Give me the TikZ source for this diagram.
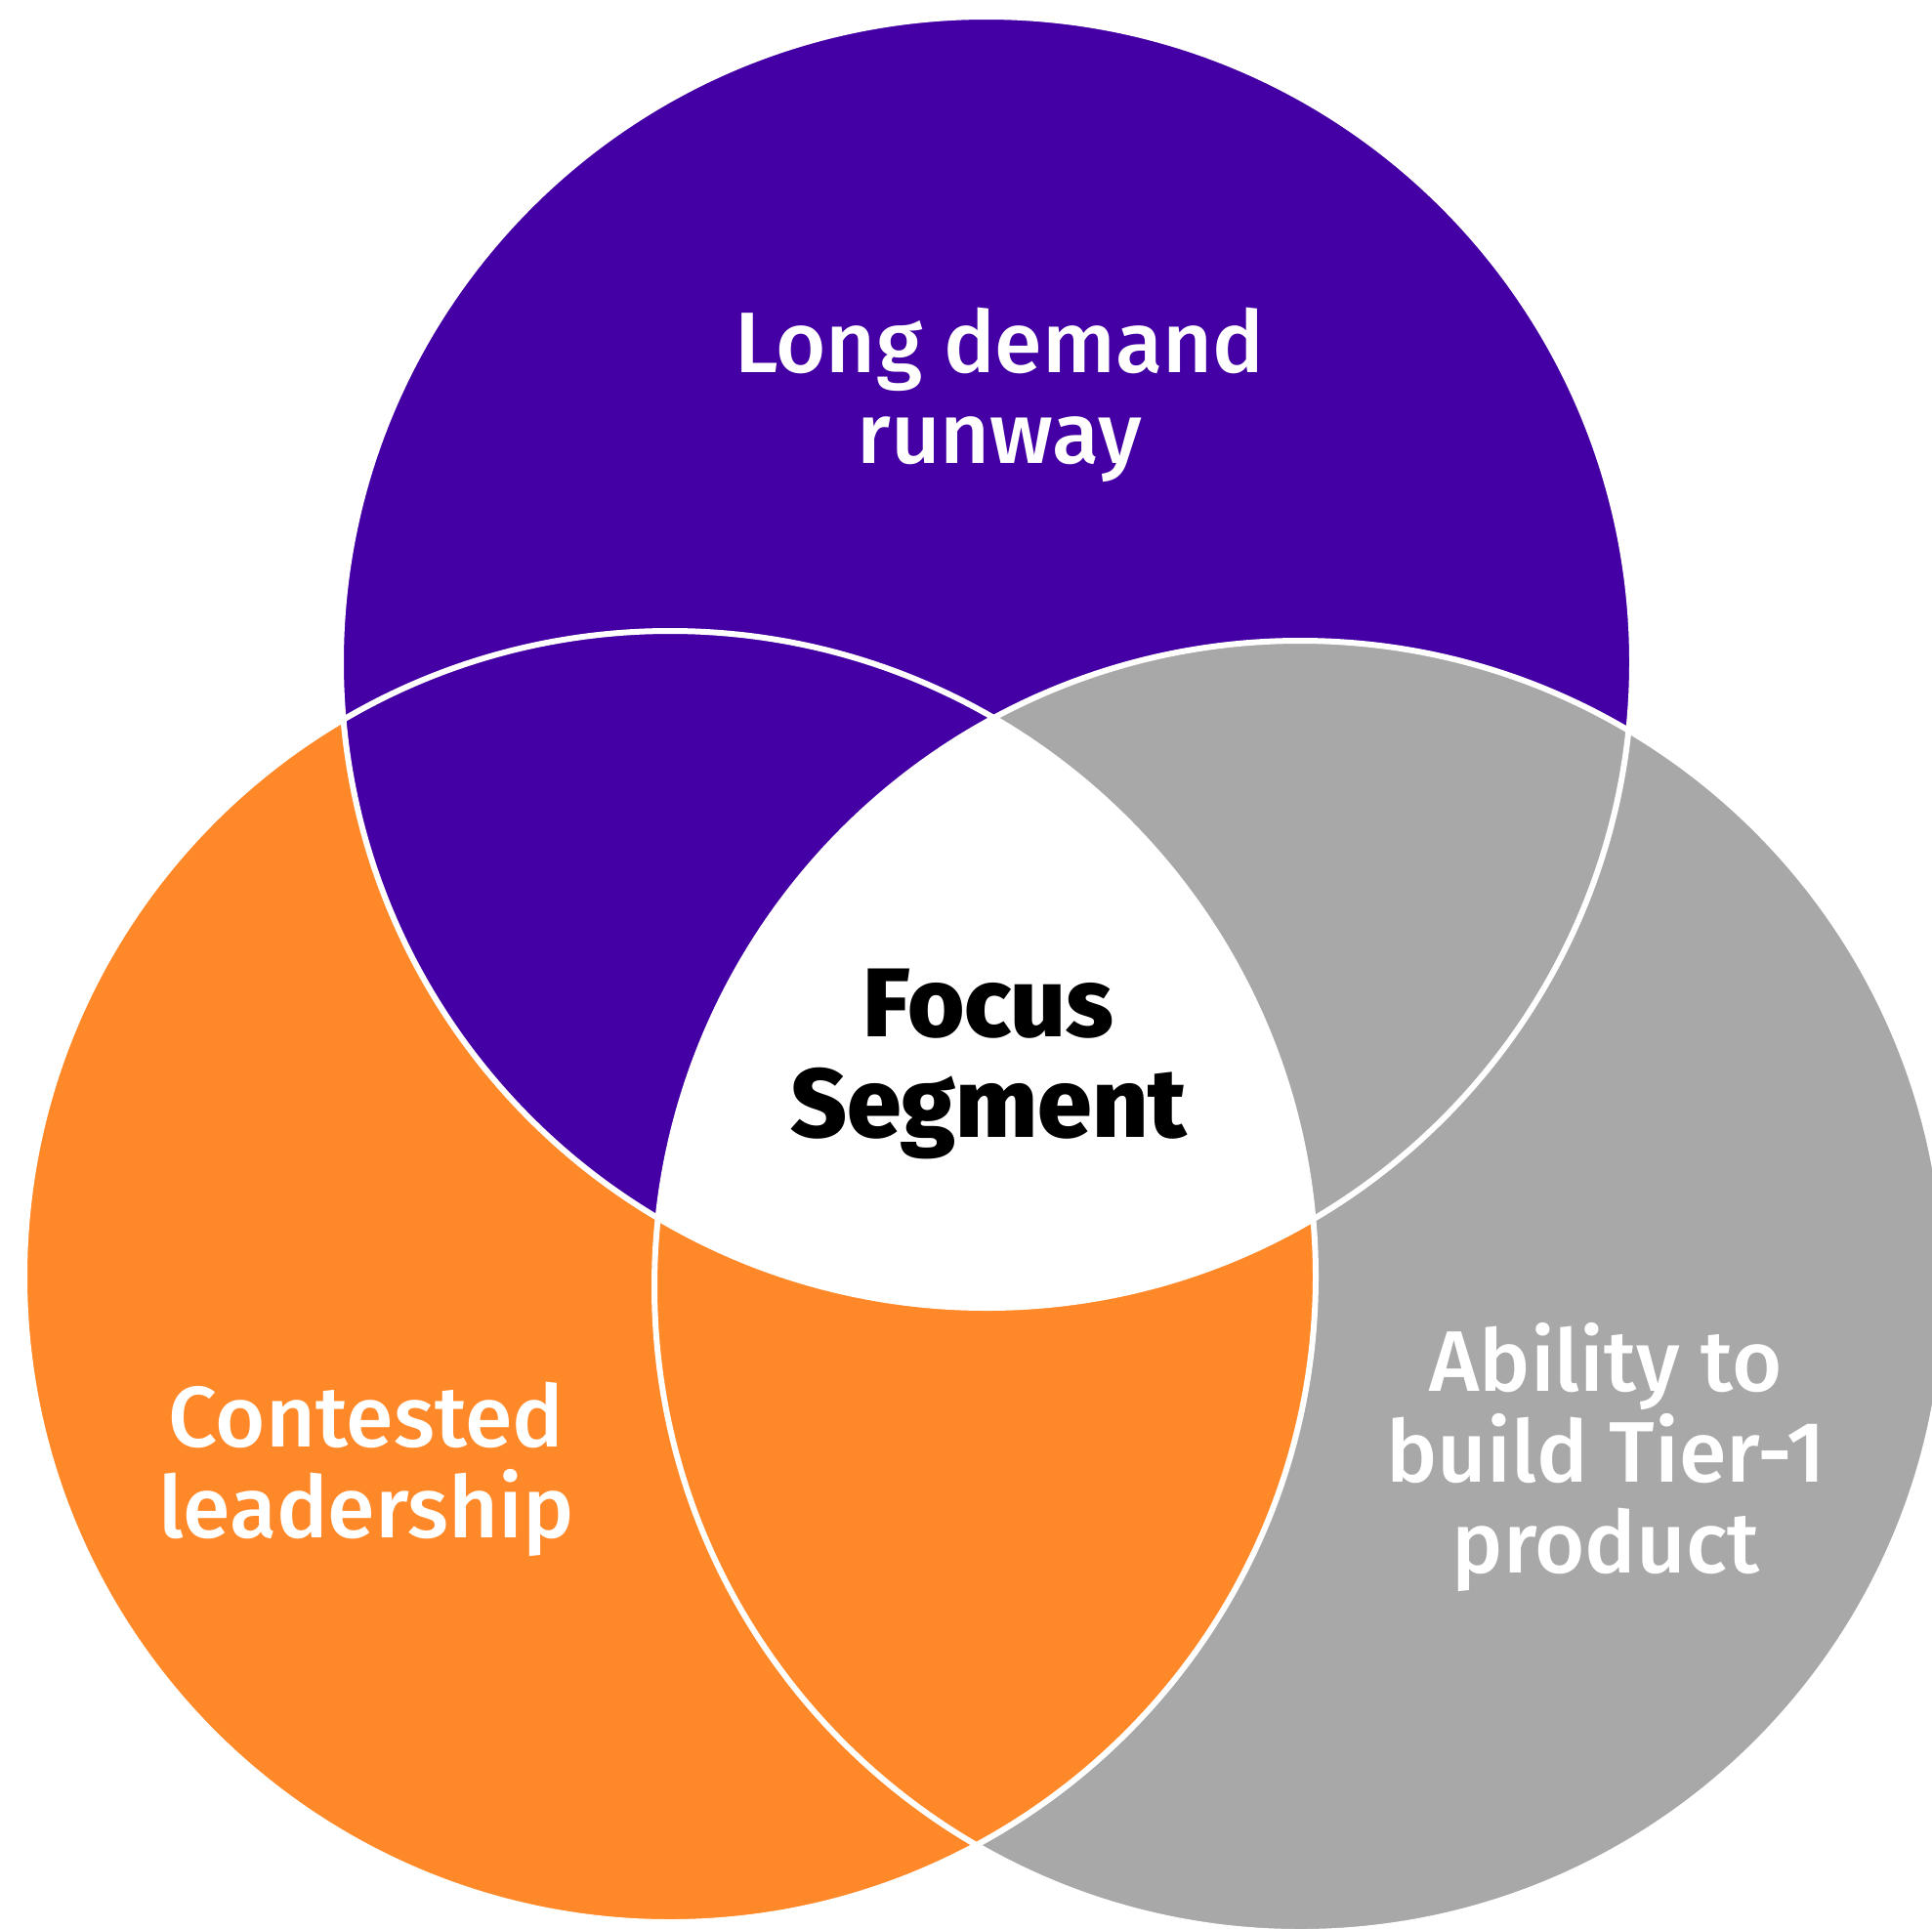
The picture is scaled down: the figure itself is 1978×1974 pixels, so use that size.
\documentclass[tikz,border=0pt]{standalone}
\usepackage{fontspec}
\setmainfont{Fira Sans}
\newfontfamily\setfont{Fira Sans Medium}
\newfontfamily\corefont{Fira Sans ExtraBold}
\definecolor{vpurple}{RGB}{68,0,164}
\definecolor{vorange}{RGB}{255,136,41}
\definecolor{vgray}{RGB}{168,168,168}
\begin{document}
\begin{tikzpicture}[x=1pt,y=-1pt,
  setlabel/.style={align=center, text=white, anchor=base,
    font=\setfont\fontsize{88}{93}\selectfont},
  corelabel/.style={align=center, text=black, anchor=base,
    font=\corefont\fontsize{100}{103}\selectfont},
  rim/.style={draw=white, line width=6pt}]
\useasboundingbox (0,0) rectangle (1978,1974);
\clip (0,0) rectangle (1978,1974);
\def\R{661pt}
\coordinate (ct) at (1010,678);
\coordinate (cl) at (686,1307);
\coordinate (cr) at (1331,1317);
% base discs
\fill[vorange] (cl) circle[radius=\R];
\fill[vgray] (cr) circle[radius=\R];
\fill[vpurple] (ct) circle[radius=\R];
% pairwise lenses
\begin{scope}
  \clip (ct) circle[radius=\R];
  \fill[vgray] (cr) circle[radius=\R];
\end{scope}
\begin{scope}
  \clip (cl) circle[radius=\R];
  \fill[vorange] (cr) circle[radius=\R];
\end{scope}
\begin{scope}
  \clip (ct) circle[radius=\R];
  \fill[vpurple] (cl) circle[radius=\R];
\end{scope}
% common core
\begin{scope}
  \clip (ct) circle[radius=\R];
  \clip (cl) circle[radius=\R];
  \fill[white] (cr) circle[radius=\R];
\end{scope}
% white rims
\path[rim] (ct) circle[radius=\R];
\path[rim] (cl) circle[radius=\R];
\path[rim] (cr) circle[radius=\R];
% labels (anchored on the baseline of the last line)
\node[setlabel] (demand) at (1023,474) {Long demand\\runway};
\node[setlabel] (lead) at (375,1574) {Contested\\leadership};
\node[setlabel] (tier) at (1644,1610) {Ability to\\build Tier-1\\product};
\node[corelabel] (focus) at (1012,1164) {Focus\\Segment};
\end{tikzpicture}
\end{document}
